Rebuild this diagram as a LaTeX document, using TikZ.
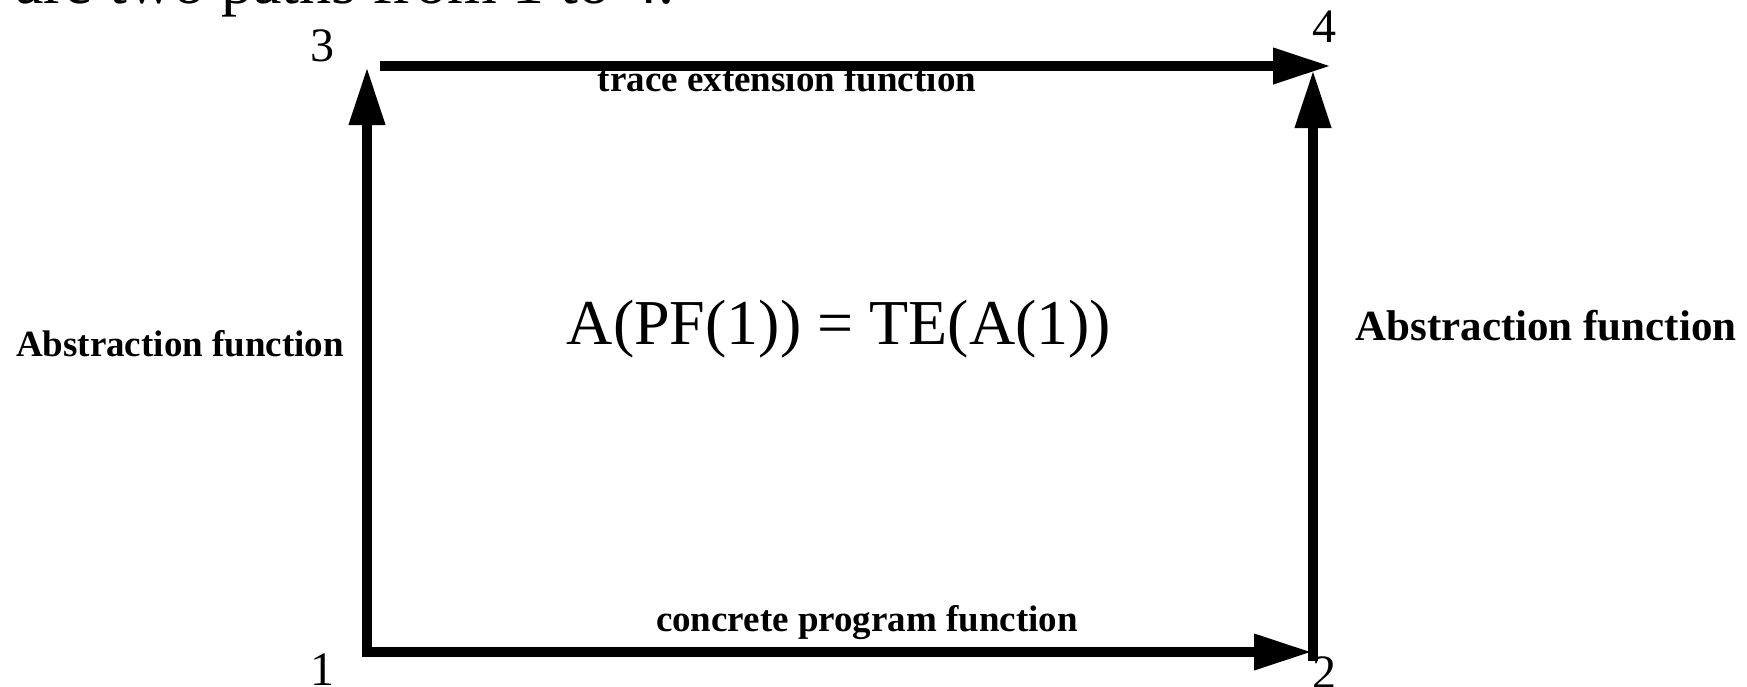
\documentclass[tikz,border=0pt]{standalone}
\usepackage{fontspec}
\setmainfont{Liberation Serif}
\usetikzlibrary{arrows.meta}

\tikzset{
  flow/.style={line width=10pt, line cap=rect,
    -{Triangle[length=58pt,width=34pt]}},
  corner/.style={font=\fontsize{48}{52}\selectfont, anchor=base, inner sep=0pt},
  fnlabel/.style={font=\bfseries\fontsize{37}{40}\selectfont, anchor=base, inner sep=0pt},
  bigtext/.style={font=\fontsize{64}{70}\selectfont, anchor=base, inner sep=0pt}
}

\begin{document}
\begin{tikzpicture}[x=1pt,y=-1pt]
  \useasboundingbox (0,0) rectangle (1747,686);
  \clip (0,0) rectangle (1747,686);

  % running text line above the figure
  \node[bigtext, anchor=base west] (intro) at (15,3) {are two paths from 1 to 4.};

  % corner numbers
  \node[corner] (n3) at (322,61) {3};
  \node[corner] (n4) at (1324,42) {4};
  \node[corner] (n1) at (322,685) {1};
  \node[corner] (n2) at (1324,688) {2};

  % corner points of the square
  \coordinate (c1) at (367,652);
  \coordinate (c2) at (1312,652);
  \coordinate (c3) at (367,67);
  \coordinate (c4) at (1313,70);
  \coordinate (t3) at (385,66);
  \coordinate (t4) at (1331,66);
  \coordinate (b2) at (1313,656);

  % labels
  \node[fnlabel] (pf) at (867,631) {concrete program function};
  \node[fnlabel] (te) at (787,91) {trace extension function};
  \node[fnlabel] (al) at (180,356) {Abstraction function};
  \node[fnlabel, font=\bfseries\fontsize{43}{46}\selectfont] (ar) at (1546,340) {Abstraction function};
  \node[bigtext] (eq) at (839,344) {A(PF(1)) = TE(A(1))};

  % arrows
  \draw[flow] (c1) -- (c2);
  \draw[flow] (c1) -- (c3);
  \draw[flow] (b2) -- (c4);
  \draw[flow] (t3) -- (t4);
\end{tikzpicture}
\end{document}
